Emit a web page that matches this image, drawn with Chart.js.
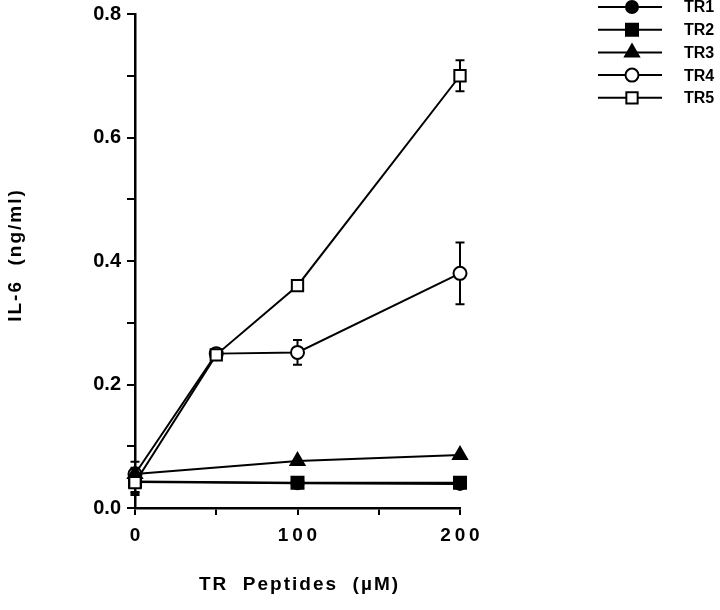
<!DOCTYPE html>
<html>
<head>
<meta charset="utf-8">
<script src="https://cdn.jsdelivr.net/npm/chart.js@4.4.1/dist/chart.umd.min.js"></script>
<style>
  html, body { margin: 0; padding: 0; background: #fff; }
  #wrap { width: 720px; height: 610px; }
</style>
</head>
<body>
<div id="wrap"><canvas id="chart"></canvas></div>
<script>
"use strict";

// data
const seriesNames = ['TR1', 'TR2', 'TR3', 'TR4', 'TR5'];
const dosesShort = [0, 100, 200];
const dosesFull = [0, 50, 100, 200];
const tr1 = [0.042, 0.040, 0.039];
const tr2 = [0.043, 0.041, 0.041];
const tr3 = [0.055, 0.076, 0.086];
const tr4 = [0.055, 0.250, 0.252, 0.380];
const tr5 = [0.041, 0.248, 0.360, 0.700];
const tr1Err = [0.018, 0, 0];
const tr2Err = [0.022, 0, 0];
const tr4Err = [0.020, 0.006, 0.020, 0.050];
const tr5Err = [0.015, 0.008, 0.006, 0.025];
const yTicks = [0, 0.2, 0.4, 0.6, 0.8];
const xTicks = [0, 100, 200];
const xTitle = 'TR  Peptides  (µM)';
const yTitle = 'IL-6  (ng/ml)';

const FONT = "'Liberation Sans', Arial, sans-serif";

function toPoints(xs, ys) {
	return ys.map((y, i) => ({ x: xs[i], y: y }));
}

function makeSet(label, xs, ys, errs, style, filled) {
	return {
		label: label,
		data: toPoints(xs, ys),
		errors: errs || null,
		borderColor: '#000',
		borderWidth: 2,
		pointStyle: style.shape,
		pointRadius: style.r,
		pointBorderWidth: 2,
		pointBorderColor: '#000',
		pointBackgroundColor: filled ? '#000' : '#fff',
		clip: false,
		tension: 0,
		fill: false
	};
}

const datasets = [
	makeSet(seriesNames[0], dosesShort, tr1, tr1Err, { shape: 'circle', r: 6 }, true),
	makeSet(seriesNames[1], dosesShort, tr2, tr2Err, { shape: 'rect', r: 8.5 }, true),
	makeSet(seriesNames[2], dosesShort, tr3, null, { shape: 'triangle', r: 8 }, true),
	makeSet(seriesNames[3], dosesFull, tr4, tr4Err, { shape: 'circle', r: 6.5 }, false),
	makeSet(seriesNames[4], dosesFull, tr5, tr5Err, { shape: 'rect', r: 8 }, false)
];
// lower order is drawn on top: TR5 over TR4 at 50, TR3 over TR4 at 0
datasets[4].order = 0;
datasets[2].order = 1;
datasets[3].order = 2;
datasets[1].order = 3;
datasets[0].order = 4;

// error bars drawn under the markers
const errorBars = {
	id: 'errorBars',
	beforeDatasetsDraw(chart) {
		const ctx = chart.ctx;
		const xs = chart.scales.x;
		const ys = chart.scales.y;
		ctx.save();
		ctx.strokeStyle = '#000';
		ctx.lineWidth = 2;
		chart.data.datasets.forEach((ds) => {
			if (!ds.errors) return;
			ds.data.forEach((p, i) => {
				const e = ds.errors[i];
				if (!e) return;
				const px = xs.getPixelForValue(p.x);
				const top = ys.getPixelForValue(p.y + e);
				const bot = ys.getPixelForValue(p.y - e);
				ctx.beginPath();
				ctx.moveTo(px, top); ctx.lineTo(px, bot);
				ctx.moveTo(px - 4.5, top); ctx.lineTo(px + 4.5, top);
				ctx.moveTo(px - 4.5, bot); ctx.lineTo(px + 4.5, bot);
				ctx.stroke();
			});
		});
		ctx.restore();
	}
};

// axis titles with the wide tracking of the original
const axisTitles = {
	id: 'axisTitles',
	afterDraw(chart) {
		const ctx = chart.ctx;
		const area = chart.chartArea;
		ctx.save();
		ctx.fillStyle = '#000';
		ctx.font = 'bold 19px ' + FONT;
		ctx.letterSpacing = '2px';
		ctx.textAlign = 'center';
		ctx.textBaseline = 'middle';
		ctx.fillText(xTitle, (area.left + area.right) / 2 + 2, 585);
		ctx.translate(16, 255);
		ctx.rotate(-Math.PI / 2);
		ctx.fillText(yTitle, 0, 0);
		ctx.restore();
	}
};

// legend: short line with the marker in the middle, label to the right
const lineLegend = {
	id: 'lineLegend',
	afterDraw(chart) {
		const ctx = chart.ctx;
		ctx.save();
		chart.data.datasets.forEach((ds, i) => {
			const y = 7 + i * 22.7;
			ctx.strokeStyle = '#000';
			ctx.lineWidth = 2;
			ctx.beginPath();
			ctx.moveTo(598, y);
			ctx.lineTo(662, y);
			ctx.stroke();
			ctx.fillStyle = ds.pointBackgroundColor;
			Chart.helpers.drawPoint(ctx, {
				pointStyle: ds.pointStyle,
				radius: ds.pointRadius,
				borderWidth: 2,
				rotation: 0
			}, 632, y);
			ctx.fillStyle = '#000';
			ctx.font = 'bold 16px ' + FONT;
			ctx.textAlign = 'left';
			ctx.textBaseline = 'middle';
			ctx.fillText(ds.label, 684, y + 1);
		});
		ctx.restore();
	}
};

new Chart(document.getElementById('chart'), {
	type: 'line',
	data: { datasets: datasets },
	options: {
		responsive: true,
		maintainAspectRatio: false,
		animation: false,
		layout: { padding: { top: 14, right: 260, left: 0, bottom: 0 } },
		plugins: {
			legend: { display: false },
			tooltip: { enabled: false }
		},
		scales: {
			x: {
				type: 'linear',
				min: 0,
				max: 200,
				afterFit: (s) => { s.height = 102; },
				border: { color: '#000', width: 2.5 },
				grid: { drawOnChartArea: false, color: '#000', lineWidth: 2, tickLength: 7 },
				ticks: {
					stepSize: 50,
					color: '#000',
					padding: 9,
					maxRotation: 0,
					font: { family: FONT, size: 19, weight: 'bold' },
					callback: (v) => xTicks.includes(v) ? String(v).split('').join('\u2009') : ''
				},
				title: { display: false }
			},
			y: {
				min: 0,
				max: 0.8,
				afterFit: (s) => {
					s.width = 135;
					s.paddingTop = 0;
					s.paddingBottom = 0;
				},
				border: { color: '#000', width: 2.5 },
				grid: { drawOnChartArea: false, color: '#000', lineWidth: 2, tickLength: 8 },
				ticks: {
					stepSize: 0.1,
					color: '#000',
					padding: 6,
					font: { family: FONT, size: 20, weight: 'bold' },
					callback: (v) => yTicks.some((t) => Math.abs(t - v) < 1e-6) ? v.toFixed(1) : ''
				},
				title: { display: false }
			}
		}
	},
	plugins: [errorBars, axisTitles, lineLegend]
});
</script>
</body>
</html>
